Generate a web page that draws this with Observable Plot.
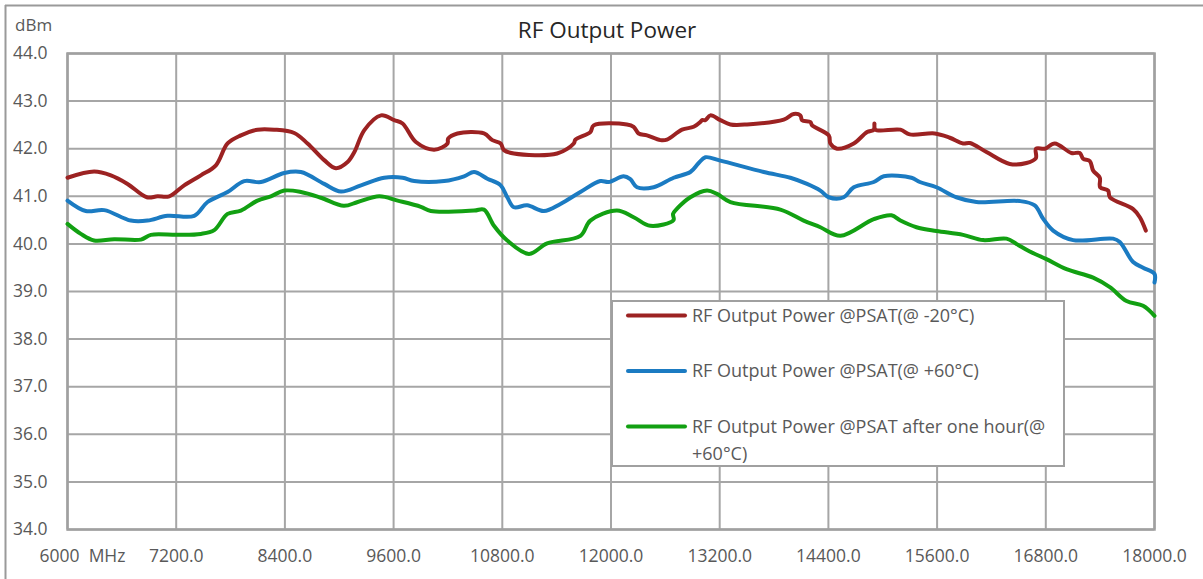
<!DOCTYPE html>
<html>
<head>
<meta charset="utf-8">
<script src="https://cdn.jsdelivr.net/npm/d3@7"></script>
<script src="https://cdn.jsdelivr.net/npm/@observablehq/plot@0.6"></script>
<style>
  html, body { margin: 0; padding: 0; background: #fff; }
  #chart { position: relative; width: 1203px; height: 579px; }
</style>
</head>
<body>
<div id="chart"></div>
<script>
// ---- Data ----
const seriesNames = [
  "RF Output Power @PSAT(@ -20°C)",
  "RF Output Power @PSAT(@ +60°C)",
  "RF Output Power @PSAT after one hour(@ +60°C)"
];
const seriesColors = ["#9c2222", "#1b7bc2", "#12a012"];

const xTicks = [6000, 7200, 8400, 9600, 10800, 12000, 13200, 14400, 15600, 16800, 18000];
const yTicks = [34, 35, 36, 37, 38, 39, 40, 41, 42, 43, 44];
const firstTickLabel = "6000\u00a0\u00a0MHz";
const yUnit = "dBm";
const chartTitle = "RF Output Power";

const redFreq = [6000, 6294, 6479, 6663, 6876, 6994, 7123, 7288, 7472, 7638, 7767, 7914, 8098, 8282, 8503, 8650, 8834, 8963, 9092, 9167, 9277, 9461, 9607, 9699, 9846, 10048, 10195, 10202, 10305, 10598, 10690, 10782, 10818, 10928, 11405, 11589, 11607, 11772, 11809, 12176, 12250, 12305, 12397, 12545, 12618, 12784, 12913, 12986, 13005, 13042, 13097, 13207, 13318, 13502, 13907, 14017, 14091, 14109, 14201, 14220, 14404, 14422, 14496, 14680, 14827, 14901, 14908, 14919, 15195, 15298, 15574, 15740, 15887, 15961, 16145, 16402, 16587, 16690, 16692, 16789, 16899, 17083, 17175, 17212, 17286, 17323, 17396, 17400, 17488, 17507, 17764, 17838, 17904];
const redPower = [41.39, 41.52, 41.44, 41.26, 40.98, 41.00, 41.00, 41.23, 41.44, 41.65, 42.11, 42.28, 42.40, 42.40, 42.33, 42.11, 41.76, 41.59, 41.72, 41.93, 42.39, 42.70, 42.60, 42.53, 42.14, 41.98, 42.11, 42.21, 42.32, 42.32, 42.18, 42.11, 41.97, 41.90, 41.90, 42.11, 42.19, 42.35, 42.49, 42.51, 42.46, 42.32, 42.28, 42.18, 42.19, 42.40, 42.46, 42.56, 42.60, 42.60, 42.70, 42.60, 42.51, 42.51, 42.61, 42.73, 42.70, 42.60, 42.56, 42.49, 42.28, 42.11, 42.00, 42.11, 42.35, 42.40, 42.53, 42.40, 42.40, 42.30, 42.32, 42.23, 42.11, 42.12, 41.93, 41.68, 41.70, 41.80, 42.00, 42.00, 42.11, 41.91, 41.91, 41.79, 41.74, 41.54, 41.39, 41.19, 41.12, 40.98, 40.73, 40.56, 40.28];

const blueFreq = [6000, 6202, 6405, 6699, 6883, 7104, 7399, 7546, 7767, 7951, 8135, 8393, 8577, 8834, 9018, 9240, 9497, 9699, 9828, 10158, 10378, 10488, 10635, 10782, 10855, 10928, 11075, 11259, 11442, 11662, 11882, 11974, 12139, 12213, 12287, 12471, 12692, 12876, 12968, 13042, 13207, 13686, 13980, 14164, 14311, 14404, 14569, 14680, 14901, 15011, 15317, 15409, 15593, 15813, 16034, 16513, 16678, 16770, 16881, 17102, 17543, 17617, 17764, 17874, 18000, 18000];
const bluePower = [40.91, 40.69, 40.71, 40.49, 40.49, 40.59, 40.59, 40.88, 41.09, 41.32, 41.30, 41.49, 41.51, 41.26, 41.10, 41.23, 41.39, 41.39, 41.32, 41.32, 41.42, 41.51, 41.37, 41.23, 40.98, 40.77, 40.81, 40.69, 40.84, 41.09, 41.32, 41.30, 41.42, 41.36, 41.19, 41.19, 41.39, 41.51, 41.70, 41.82, 41.75, 41.51, 41.39, 41.26, 41.12, 40.98, 40.98, 41.19, 41.30, 41.42, 41.39, 41.30, 41.19, 40.98, 40.88, 40.90, 40.81, 40.53, 40.28, 40.08, 40.11, 40.04, 39.62, 39.50, 39.37, 39.19];

const greenFreq = [6000, 6147, 6294, 6515, 6810, 6920, 7215, 7472, 7620, 7767, 7914, 8098, 8245, 8393, 8577, 8797, 9050, 9204, 9442, 9644, 9901, 10011, 10488, 10598, 10708, 10855, 11094, 11295, 11662, 11772, 12066, 12250, 12434, 12690, 12685, 12729, 12876, 13060, 13170, 13318, 13870, 14127, 14311, 14532, 14901, 15096, 15195, 15372, 15593, 15887, 16108, 16366, 16476, 16623, 16807, 17028, 17323, 17507, 17691, 17874, 18000];
const greenPower = [40.42, 40.21, 40.07, 40.10, 40.09, 40.19, 40.19, 40.21, 40.29, 40.63, 40.70, 40.91, 41.00, 41.12, 41.09, 40.97, 40.80, 40.88, 41.00, 40.91, 40.78, 40.69, 40.70, 40.72, 40.38, 40.07, 39.79, 40.01, 40.17, 40.49, 40.70, 40.56, 40.38, 40.50, 40.63, 40.74, 40.98, 41.12, 41.05, 40.88, 40.72, 40.49, 40.35, 40.17, 40.52, 40.60, 40.49, 40.35, 40.27, 40.19, 40.08, 40.11, 40.00, 39.84, 39.68, 39.47, 39.29, 39.09, 38.80, 38.70, 38.49];

// ---- Build table ----
const rows = [];
[[redFreq, redPower], [blueFreq, bluePower], [greenFreq, greenPower]].forEach(([fs, ps], i) => {
  fs.forEach((f, j) => rows.push({series: seriesNames[i], freq: f, power: ps[j]}));
});

const FONT = "'Open Sans', sans-serif";
const TXT = "#595959";
const GRID = "#a6a6a6";

const chart = Plot.plot({
  width: 1203,
  height: 579,
  marginLeft: 67,
  marginRight: 49,
  marginTop: 53,
  marginBottom: 50,
  style: {fontFamily: FONT, fontSize: "17.5px", color: TXT, background: "#fff", overflow: "visible"},
  x: {domain: [6000, 18000]},
  y: {domain: [34, 44]},
  color: {domain: seriesNames, range: seriesColors},
  marks: [
    Plot.gridX(xTicks, {stroke: GRID, strokeOpacity: 1, strokeWidth: 2}),
    Plot.gridY(yTicks, {stroke: GRID, strokeOpacity: 1, strokeWidth: 2}),
    Plot.frame({stroke: "#a0a0a0", strokeWidth: 2.5}),
    Plot.axisX(xTicks.slice(1), {tickSize: 0, tickPadding: 20, tickFormat: d => d.toFixed(1), label: null, fill: TXT}),
    Plot.axisX([xTicks[0]], {tickSize: 0, tickPadding: 20, tickFormat: () => firstTickLabel, dx: 15, label: null, fill: TXT}),
    Plot.axisY(yTicks, {tickSize: 0, tickPadding: 20, tickFormat: d => d.toFixed(1), label: null, fill: TXT}),
    Plot.line(rows, {x: "freq", y: "power", z: "series", stroke: "series", strokeWidth: 4, curve: "catmull-rom", strokeLinejoin: "round", strokeLinecap: "round"})
  ]
});

document.getElementById("chart").appendChild(chart);

// ---- Decorations: border, title, unit, legend ----
const svg = d3.select(chart);
const deco = svg.append("g");
deco.append("line").attr("x1", 5).attr("x2", 1203).attr("y1", 5.5).attr("y2", 5.5).attr("stroke", "#9a9a9a").attr("stroke-width", 2);
deco.append("line").attr("x1", 5.5).attr("x2", 5.5).attr("y1", 5).attr("y2", 579).attr("stroke", "#9a9a9a").attr("stroke-width", 2);

deco.append("text").text(chartTitle)
  .attr("x", 607).attr("y", 38).attr("text-anchor", "middle")
  .attr("font-family", FONT).attr("font-size", 22.5).attr("fill", "#262626");

deco.append("text").text(yUnit)
  .attr("x", 15).attr("y", 30.5).attr("text-anchor", "start")
  .attr("font-family", FONT).attr("font-size", 17).attr("fill", TXT);

const lg = svg.append("g");
lg.append("rect").attr("x", 612).attr("y", 301).attr("width", 452).attr("height", 165)
  .attr("fill", "#fff").attr("stroke", "#a0a0a0").attr("stroke-width", 2);
const legendRows = [
  {lines: [seriesNames[0]], y: 315.5},
  {lines: [seriesNames[1]], y: 371},
  {lines: ["RF Output Power @PSAT after one hour(@", "+60°C)"], y: 426.5}
];
legendRows.forEach((r, i) => {
  lg.append("line").attr("x1", 628).attr("x2", 685).attr("y1", r.y).attr("y2", r.y)
    .attr("stroke", seriesColors[i]).attr("stroke-width", 4).attr("stroke-linecap", "round");
  r.lines.forEach((t, k) => {
    lg.append("text").text(t)
      .attr("x", 692).attr("y", r.y + k * 27).attr("dy", "0.36em").attr("text-anchor", "start")
      .attr("font-family", FONT).attr("font-size", 18).attr("fill", TXT);
  });
});
</script>
</body>
</html>
